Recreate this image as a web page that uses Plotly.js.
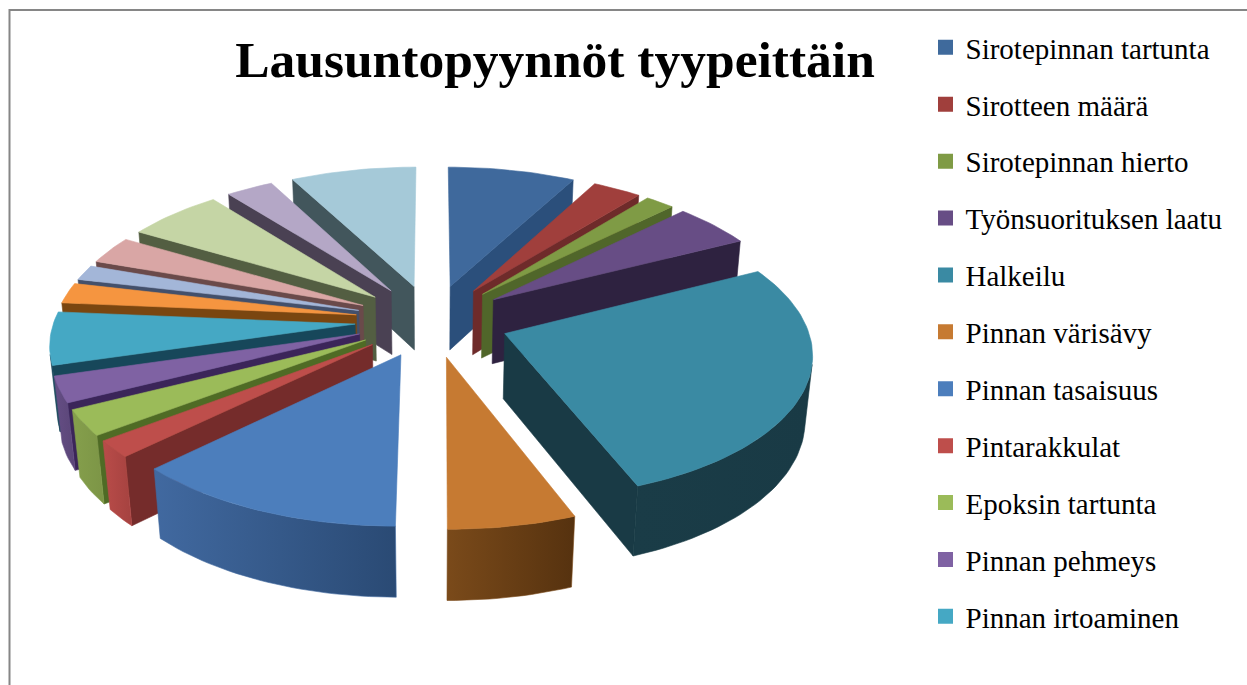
<!DOCTYPE html>
<html>
<head>
<meta charset="utf-8">
<script src="https://cdn.plot.ly/plotly-3.0.1.min.js"></script>
<style>html,body{margin:0;padding:0;background:#fff;overflow:hidden}#chart{width:1247px;height:685px}</style>
</head>
<body>
<div id="chart"></div>
<script>
// Categories named in the visible legend (the remaining slices' names are cut off in the reference)
const legendNames = ["Sirotepinnan tartunta","Sirotteen määrä","Sirotepinnan hierto","Työnsuorituksen laatu","Halkeilu","Pinnan värisävy","Pinnan tasaisuus","Pintarakkulat","Epoksin tartunta","Pinnan pehmeys","Pinnan irtoaminen"];
// Share of each slice, percent, clockwise from 12 o'clock
const values = [7.8,3.0,1.8,4.9,26.6,5.9,12.7,1.9,2.9,2.9,5.9,2.3,1.7,3.1,5.9,2.9,7.7];
const topColors = ["#3F699C","#A03F3C","#7F9B45","#674D85","#3A8AA3","#C67A32","#4C7EBC","#BE4E4B","#9BBB59","#7F62A3","#45A8C4","#F59540","#A3B6D8","#D9A6A5","#C5D5A5","#B4A7C6","#A5C9D8"];
const sideColors = ["#2B4F7B","#6E2B2A","#50662A","#2E2240","#193A45","#744619","#2A4A74","#752C2B","#4F6B25","#3B2559","#17475A","#7A4610","#43506B","#6A4A4A","#535E42","#4A4153","#42565C"];
const outerLeft = ["#2B4F7B","#6E2B2A","#50662A","#2E2240","#1A3C47","#7A4A1A","#4169A0","#B94C49","#859F4C","#654E85","#17475A","#7A4610","#43506B","#6A4A4A","#535E42","#4A4153","#42565C"];
const outerRight = ["#2B4F7B","#6E2B2A","#50662A","#2E2240","#193A45","#56320F","#2A4A74","#A54240","#7C9546","#5A4577","#17475A","#7A4610","#43506B","#6A4A4A","#535E42","#4A4153","#42565C"];
const legendColors = ["#3F6A9C","#A03F3C","#7F9B45","#674D85","#3A8AA3","#C67A32","#4C7EBC","#BE4E4B","#9BBB59","#7F62A3","#45A8C4"];

// Projection of the tilted pie
const cx = 432, cy = 320.5, radius = 301, pull = 77, k = 0.47, q = 0.000403, depthShrink = 0.02, depthDrop = 66;
const total = values.reduce((a,b)=>a+b,0);
function project(X,Y,bottom){
  const W = 1/(1 - q*Y + (bottom?depthShrink:0));
  return [cx + X*W, cy + (k*Y + (bottom?depthDrop:0))*W];
}
function area(p){let s=0;for(let i=0;i<p.length;i++){const a=p[i],b=p[(i+1)%p.length];s+=a[0]*b[1]-b[0]*a[1];}return s;}
function poly(points,color,grad){
  const t={x:points.map(p=>p[0]).concat(points[0][0]),y:points.map(p=>p[1]).concat(points[0][1]),
    mode:'lines',fill:'toself',line:{width:0.6,color:color},fillcolor:color,hoverinfo:'skip',showlegend:false,type:'scatter'};
  if(grad){t.fillgradient={type:'horizontal',colorscale:[[0,grad[0]],[1,grad[1]]]};}
  return t;
}
let acc=0;
const slices=values.map((v,i)=>{
  const a0=acc/total*2*Math.PI; acc+=v; const a1=acc/total*2*Math.PI; const m=(a0+a1)/2;
  return {i,a0,a1,ox:pull*Math.sin(m),oy:-pull*Math.cos(m)};
});
slices.sort((a,b)=>a.oy-b.oy);
const traces=[];
slices.forEach(s=>{
  const apex=[s.ox,s.oy], n=Math.max(3,Math.ceil((s.a1-s.a0)/(Math.PI/120)));
  const rim=[];
  for(let j=0;j<=n;j++){const t=s.a0+(s.a1-s.a0)*j/n;rim.push([s.ox+radius*Math.sin(t),s.oy-radius*Math.cos(t)]);}
  const wall=(a,b)=>[project(a[0],a[1],false),project(b[0],b[1],false),project(b[0],b[1],true),project(a[0],a[1],true)];
  const side=(a,b)=>{const w=wall(a,b);if(area(w)<-3000)traces.push(poly(w,sideColors[s.i]));};
  side(apex,rim[0]);
  side(rim[n],apex);
  // visible stretch of the outer wall
  let run=[];
  const flush=()=>{
    if(run.length>1){
      const up=run.map(p=>project(p[0],p[1],false)),dn=run.map(p=>project(p[0],p[1],true)).reverse();
      traces.push(poly(up.concat(dn),outerLeft[s.i],[outerLeft[s.i],outerRight[s.i]]));
    }
    run=[];
  };
  for(let j=0;j<n;j++){
    if(area(wall(rim[j],rim[j+1]))<0){ if(!run.length)run.push(rim[j]); run.push(rim[j+1]); } else flush();
  }
  flush();
  traces.push(poly([apex].concat(rim).map(p=>project(p[0],p[1],false)),topColors[s.i]));
});
legendNames.forEach((name,i)=>{
  traces.push({x:[null],y:[null],type:'scatter',mode:'markers',name:name,legendgroup:'g'+i,showlegend:true,
    marker:{symbol:'square',size:15,color:legendColors[i]}});
});
const layout={
  width:1247,height:685,margin:{l:0,r:0,t:0,b:0,pad:0},paper_bgcolor:'#fff',plot_bgcolor:'#fff',
  title:{text:'<b>Lausuntopyynnöt tyypeittäin</b>',font:{family:'Liberation Serif',size:51.5,color:'#000'},
    xref:'paper',yref:'paper',x:555/1247,xanchor:'center',y:1-59/685,yanchor:'middle'},
  xaxis:{range:[0,1247],visible:false,fixedrange:true},
  yaxis:{range:[685,0],visible:false,fixedrange:true},
  showlegend:true,
  legend:{x:937.5/1247,xanchor:'left',y:1-22/685,yanchor:'top',traceorder:'grouped',tracegroupgap:16.2,
    indentation:-12,font:{family:'Liberation Serif',size:29,color:'#000'},bgcolor:'rgba(0,0,0,0)'},
  shapes:[{type:'rect',xref:'x',yref:'y',x0:9.5,y0:10,x1:1400,y1:900,line:{color:'#868686',width:2},layer:'below'}]
};
Plotly.newPlot('chart',traces,layout,{staticPlot:true,displayModeBar:false});
</script>
</body>
</html>
